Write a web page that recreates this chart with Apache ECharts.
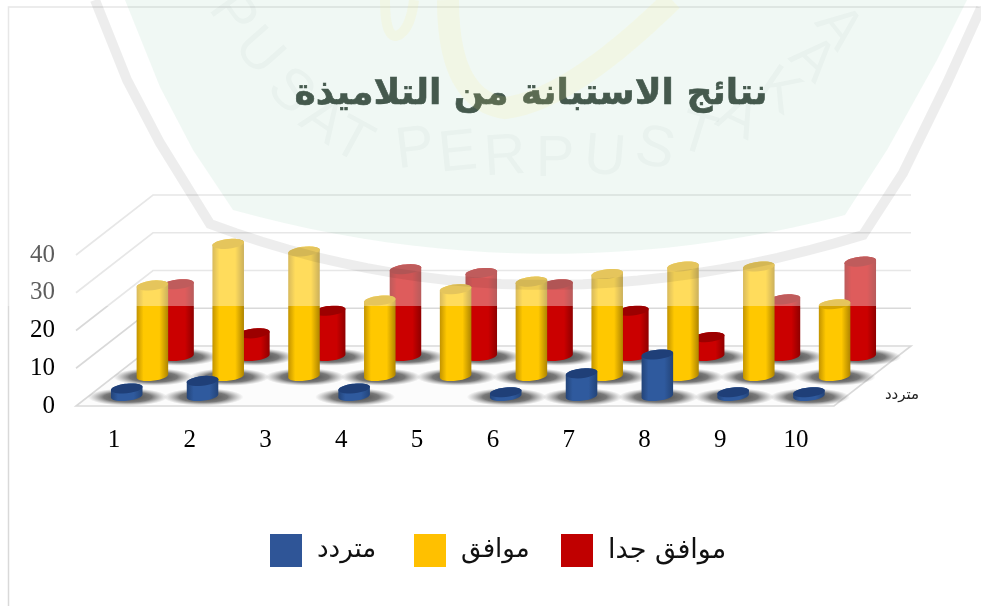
<!DOCTYPE html>
<html>
<head>
<meta charset="utf-8">
<style>html,body{margin:0;padding:0;background:#fff}#c{width:981px;height:606px}</style>
<script src="https://cdn.jsdelivr.net/npm/echarts@6/dist/echarts.min.js"></script>
</head>
<body>
<div id="c"></div>
<script>
const categories = ['1','2','3','4','5','6','7','8','9','10'];
const unsure = [2,4,null,2,null,1,6,11,1,1];
const agree = [24,35,33,20,23,25,27,29,29,19];
const stronglyAgree = [19,6,12,23,22,19,12,5,15,25];
const yTicks = [0,10,20,30,40];
const titleText = 'نتائج الاستبانة من التلاميذة';
const nameUnsure = 'متردد';
const nameAgree = 'موافق';
const nameStrong = 'موافق جدا';

const AR = '"DejaVu Sans"';
const NUM = '"Liberation Serif","DejaVu Serif",serif';
const DX = 77, DY = 60, ROWS = 3, SHEAR = 0.1, RY = 4.8;
const G = echarts.graphic;

function ell(cx, cy, rx, ry, from, to) {
  const out = [];
  for (let i = 0; i <= 28; i++) {
    const t = from + (to - from) * i / 28;
    out.push([cx + rx * Math.cos(t), cy + ry * Math.sin(t) - SHEAR * rx * Math.cos(t)]);
  }
  return out;
}
function cyl(row, edgeL, mid, edgeR, cap) {
  return function (params, api) {
    const v = api.value(1);
    if (v == null || isNaN(v)) return null;
    const base = api.coord([api.value(0), 0]);
    const topY = api.coord([api.value(0), v])[1];
    const f = (row + 0.5) / ROWS;
    const cx = base[0] + DX * f, cy = base[1] - DY * f;
    const h = base[1] - topY, ty = cy - h;
    const rx = api.size([1, 0])[0] * 0.208;
    const body = ell(cx, cy, rx, RY, 0, Math.PI).concat(ell(cx, ty, rx, RY, Math.PI, 2 * Math.PI));
    return {
      type: 'group', silent: true,
      children: [
        { type: 'circle', x: cx + 1, y: cy + 1, scaleY: 0.22, shape: { cx: 0, cy: 0, r: 40 },
          style: { fill: new G.RadialGradient(0.5, 0.5, 0.5, [
            { offset: 0, color: 'rgba(40,40,40,0.9)' },
            { offset: 0.6, color: 'rgba(70,70,70,0.72)' },
            { offset: 1, color: 'rgba(120,120,120,0)' }]) } },
        { type: 'polygon', shape: { points: body },
          style: { fill: new G.LinearGradient(0, 0, 1, 0, [
            { offset: 0, color: edgeL }, { offset: 0.22, color: mid },
            { offset: 0.72, color: mid }, { offset: 1, color: edgeR }]) } },
        { type: 'polygon', shape: { points: ell(cx, ty, rx, RY, 0, 2 * Math.PI) }, style: { fill: cap } }
      ]
    };
  };
}
function walls(params, api) {
  const t = api.value(1);
  const p = params.coordSys;
  const y = api.coord([0, t])[1];
  const line = { stroke: '#d9d9d9', lineWidth: 1.6, fill: null };
  const kids = [];
  if (t === 0) {
    kids.push({ type: 'polygon',
      shape: { points: [[p.x, y], [p.x + p.width, y], [p.x + p.width + DX, y - DY], [p.x + DX, y - DY]] },
      style: { fill: '#fcfcfc', stroke: '#d9d9d9', lineWidth: 1.6 } });
  } else {
    kids.push({ type: 'polyline',
      shape: { points: [[p.x, y], [p.x + DX, y - DY], [p.x + p.width + DX, y - DY]] }, style: line });
  }
  return { type: 'group', silent: true, children: kids };
}

function qb(a, c, b) {
  const o = [];
  for (let i = 0; i <= 24; i++) {
    const t = i / 24, u = 1 - t;
    o.push([u*u*a[0] + 2*u*t*c[0] + t*t*b[0], u*u*a[1] + 2*u*t*c[1] + t*t*b[1]]);
  }
  return o;
}
const shieldFill = [[125,0],[160,87],[193,150]].concat(qb([233,210],[540,295],[845,215]), [[887,150],[937,60],[967,0]]);
const shieldBand = [[95,0],[127,80],[160,143]].concat(qb([210,224],[520,340],[863,235]), [[903,173],[947,83],[981,8]]);
const crescent = qb([448,0],[448,100],[505,108]).concat(qb([505,108],[570,100],[672,0]));
const hook = qb([385,0],[385,36],[396,36]).concat(qb([396,36],[410,32],[414,0]));

const wmLetters = [
  ['P',232,15,-0.95],['U',258,52,-0.85],['S',290,92,-0.75],['A',322,122,-0.6],['T',352,142,-0.5],
  ['P',415,150,0.12],['E',458,154,0.1],['R',505,158,0.06],['P',555,160,0],['U',605,158,-0.08],['S',655,150,-0.2],
  ['T',697,136,-0.3],['A',738,118,-0.45],['K',778,92,-0.6],['A',812,60,-0.75],['A',838,28,-0.9]
];

const graphics = [
  { type: 'polyline', z: 1, silent: true, shape: { points: [[8.5, 606], [8.5, 7], [981, 7]] },
    style: { stroke: '#d9d9d9', lineWidth: 1.5, fill: null } },
  { type: 'text', z: 3, silent: true, x: 902, y: 395,
    style: { text: nameUnsure, font: '15px ' + AR, fill: '#222', align: 'center', verticalAlign: 'middle' } },
  { type: 'rect', z: 50, silent: true, shape: { x: 0, y: 0, width: 981, height: 306 },
    style: { fill: 'rgba(255,255,255,0.36)' } },
  { type: 'polygon', z: 60, silent: true, shape: { points: shieldFill },
    style: { fill: 'rgba(45,155,95,0.07)' } },
  { type: 'polyline', z: 60, silent: true, shape: { points: shieldBand },
    style: { fill: null, stroke: 'rgba(0,0,0,0.07)', lineWidth: 10 } },
  { type: 'polyline', z: 61, silent: true, shape: { points: crescent },
    style: { fill: null, stroke: 'rgba(255,240,120,0.12)', lineWidth: 22 } },
  { type: 'polyline', z: 61, silent: true, shape: { points: hook },
    style: { fill: null, stroke: 'rgba(255,240,120,0.12)', lineWidth: 10 } }
].concat(wmLetters.map(l => ({
  type: 'text', z: 61, silent: true, x: l[1], y: l[2], rotation: l[3],
  style: { text: l[0], font: '58px "Liberation Sans"', fill: 'rgba(70,90,80,0.035)', align: 'center', verticalAlign: 'middle' }
})));

const legendBase = { show: true, top: 534, padding: 0, itemWidth: 32, itemHeight: 33, icon: 'rect', selectedMode: false };
const legendText = s => ({ fontFamily: AR, fontSize: s, color: '#111', padding: [0, 0, 6, 10] });

const chart = echarts.init(document.getElementById('c'), null, { renderer: 'canvas' });
chart.setOption({
  animation: false,
  backgroundColor: '#fff',
  title: { text: titleText, left: 526, top: 72, textAlign: 'center', z: 55,
    textStyle: { fontFamily: AR, fontSize: 36, fontWeight: 'bold', color: '#47544c',
      textBorderColor: '#47544c', textBorderWidth: 0.6 } },
  grid: { left: 76, width: 758, top: 255, height: 151, containLabel: false },
  xAxis: { type: 'category', data: categories, boundaryGap: true,
    axisLine: { show: false }, axisTick: { show: false }, splitLine: { show: false },
    axisLabel: { fontFamily: NUM, fontSize: 25, color: '#000', margin: 22 } },
  yAxis: { type: 'value', min: 0, max: 40, interval: 10,
    axisLine: { show: false }, axisTick: { show: false }, splitLine: { show: false },
    axisLabel: { fontFamily: NUM, fontSize: 25, color: '#000', margin: 21 } },
  legend: [
    Object.assign({}, legendBase, { left: 270, data: [nameUnsure], textStyle: legendText(26) }),
    Object.assign({}, legendBase, { left: 414, data: [nameAgree], textStyle: legendText(26) }),
    Object.assign({}, legendBase, { left: 561, data: [nameStrong], textStyle: legendText(27) })
  ],
  graphic: { elements: graphics },
  series: [
    { type: 'custom', name: 'walls', z: 1, renderItem: walls, data: yTicks.map(t => [0, t]), encode: { x: 0, y: 1 } },
    { type: 'custom', name: nameStrong, z: 2, itemStyle: { color: '#c00000' },
      renderItem: cyl(2, '#970000', '#cb0000', '#8f0000', '#9c0000'),
      data: stronglyAgree.map((v, i) => [i, v]), encode: { x: 0, y: 1 } },
    { type: 'custom', name: nameAgree, z: 3, itemStyle: { color: '#ffc000' },
      renderItem: cyl(1, '#c29300', '#ffc800', '#ae8400', '#d6a400'),
      data: agree.map((v, i) => [i, v]), encode: { x: 0, y: 1 } },
    { type: 'custom', name: nameUnsure, z: 4, itemStyle: { color: '#2f5597' },
      renderItem: cyl(0, '#234479', '#2f5a9e', '#234479', '#1f3f78'),
      data: unsure.map((v, i) => [i, v]), encode: { x: 0, y: 1 } }
  ]
});
</script>
</body>
</html>
